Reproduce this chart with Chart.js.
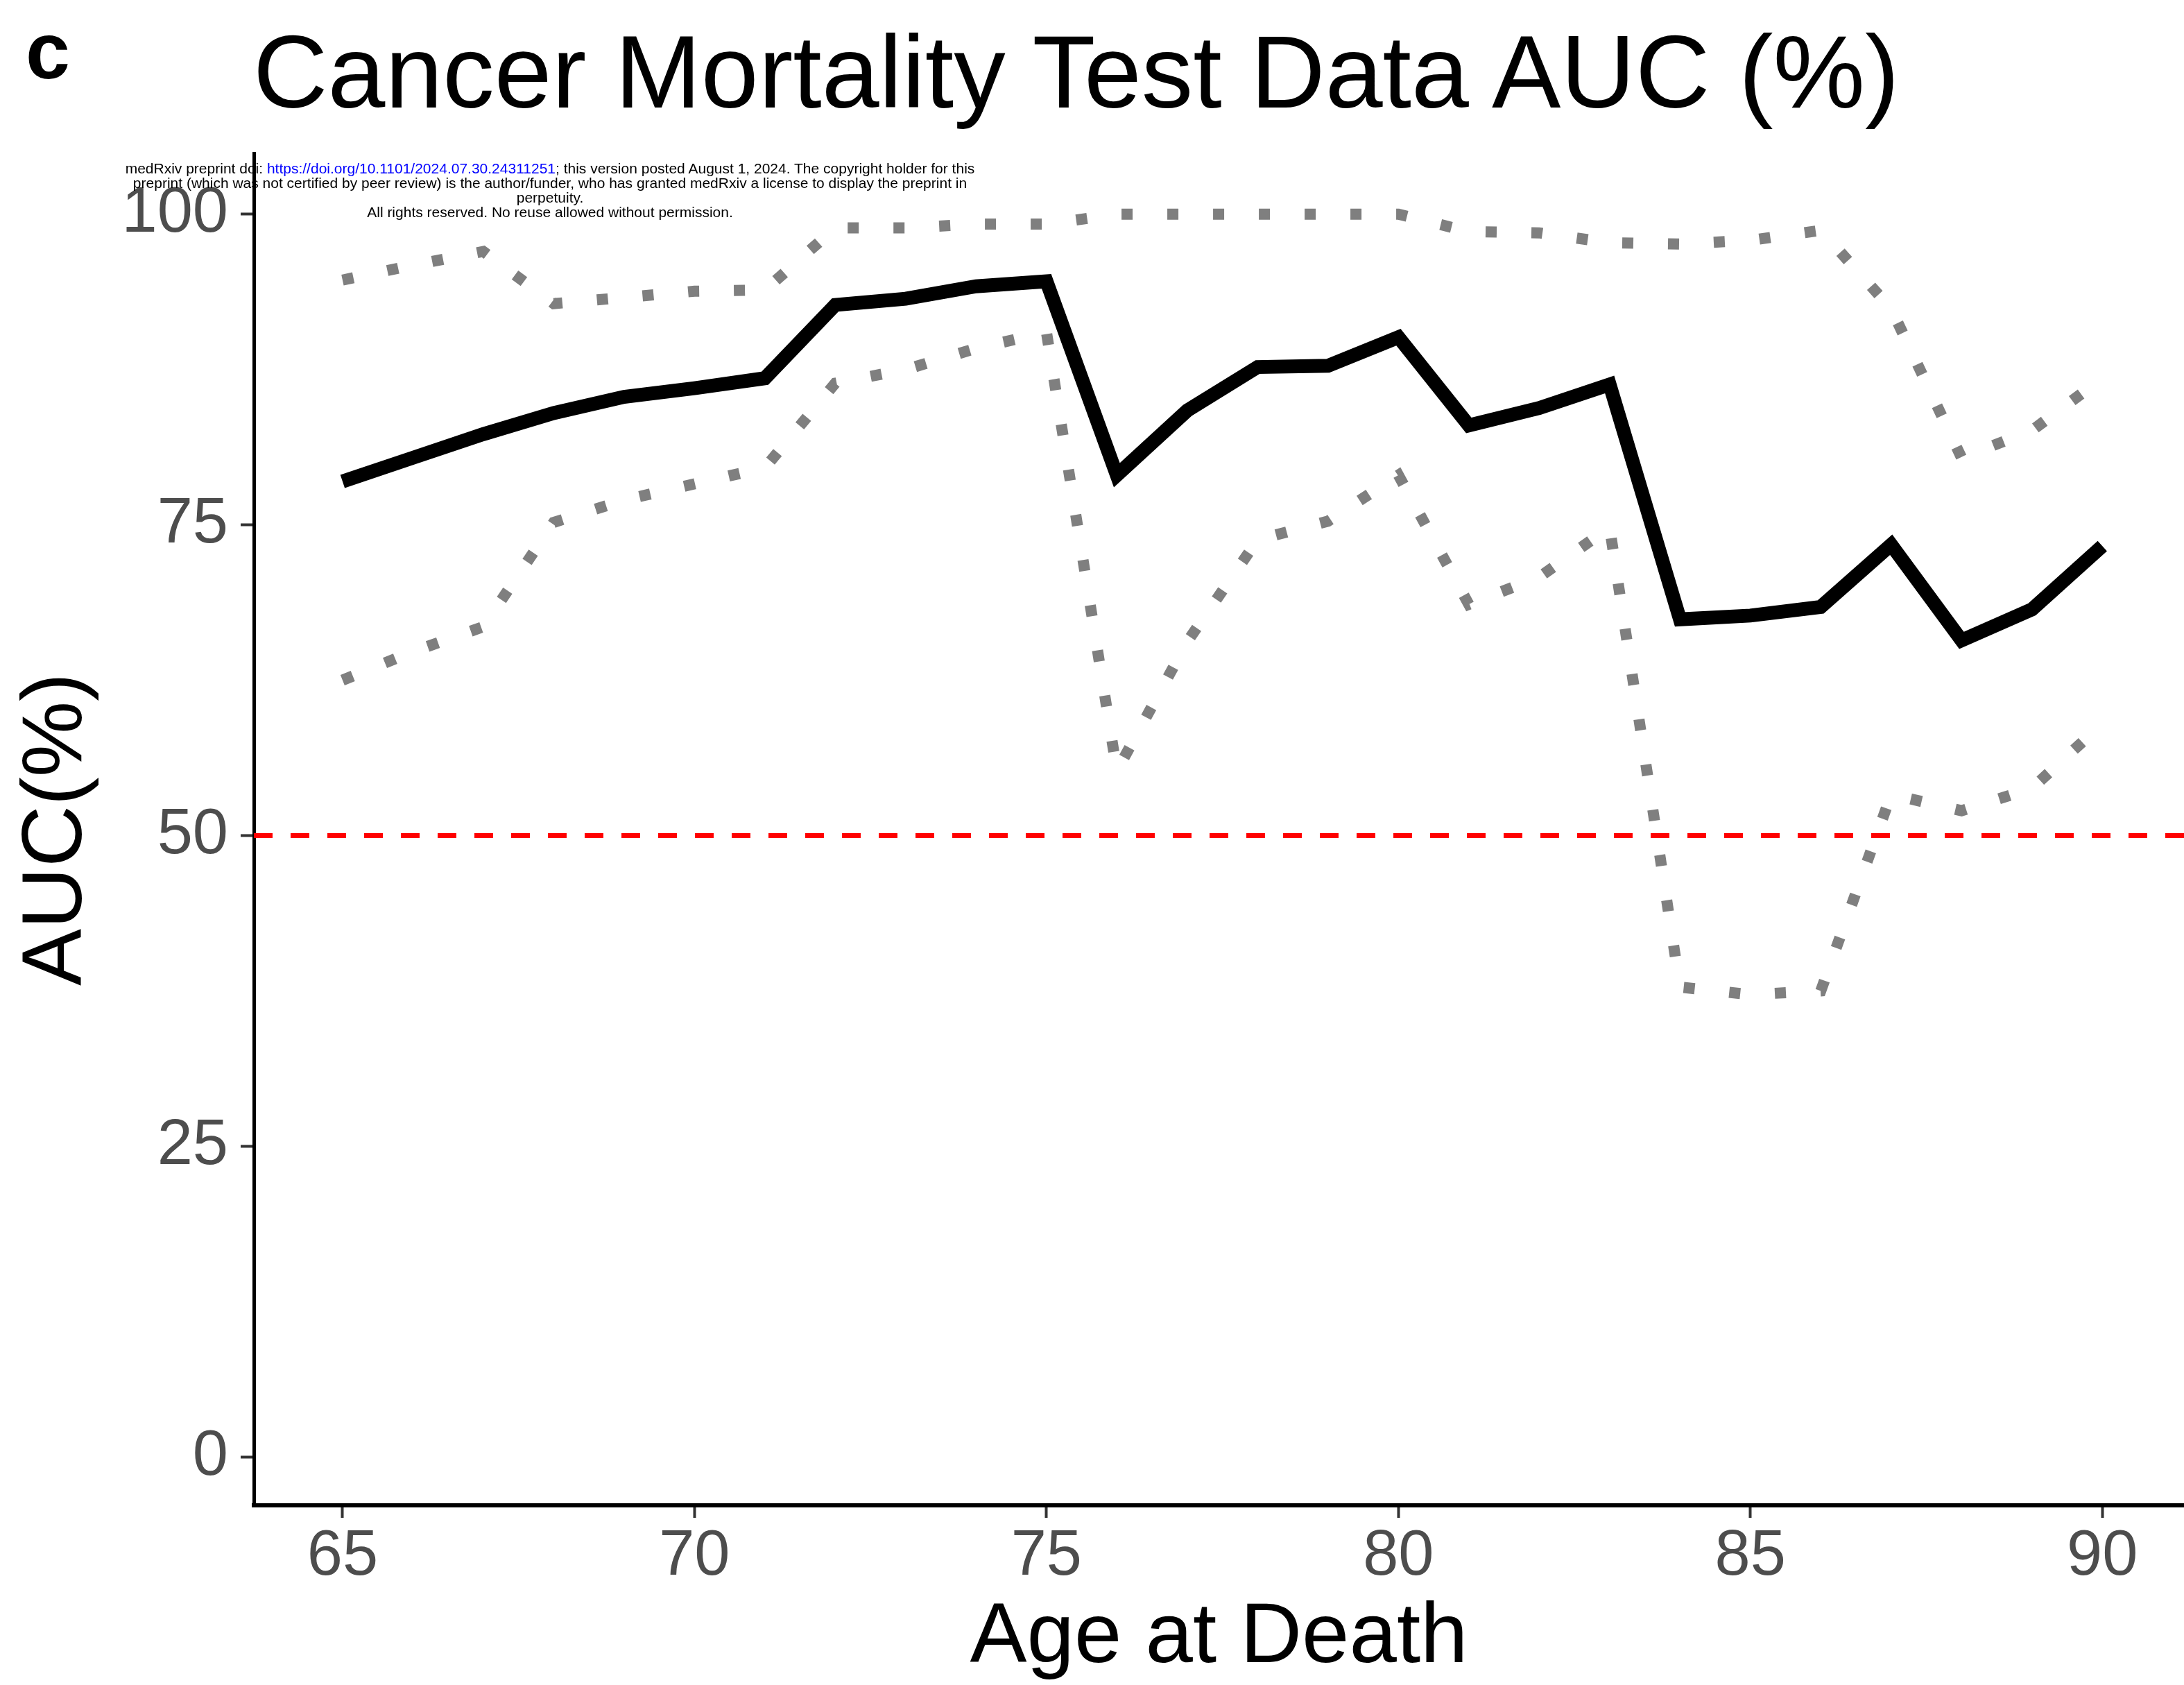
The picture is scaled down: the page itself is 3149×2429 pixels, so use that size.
<!DOCTYPE html>
<html>
<head>
<meta charset="utf-8">
<title>Cancer Mortality Test Data AUC (%)</title>
<script src="https://cdn.jsdelivr.net/npm/chart.js@4.4.1/dist/chart.umd.min.js"></script>
<style>
  body { margin: 0; background: #fff; font-family: "Liberation Sans", Arial, sans-serif; }
  #wrap { position: relative; width: 3149px; height: 2429px; }
  #auc-plot { position: absolute; left: 0; top: 0; }
  #panel-letter { position: absolute; left: 37px; top: 16px; font-size: 115px; line-height: 1; font-weight: bold; color: #000; }
  #plot-title { position: absolute; left: 365px; top: 29px; font-size: 149px; line-height: 1; color: #000; white-space: nowrap; }
  #preprint-note { position: absolute; left: 93px; top: 232px; width: 1400px; text-align: center; font-size: 21px; line-height: 21px; color: #000; white-space: nowrap; }
  #preprint-note a { color: #0000FF; text-decoration: none; }
</style>
</head>
<body>
<div id="wrap">
  <canvas id="auc-plot" width="3149" height="2429"></canvas>
  <div id="panel-letter">c</div>
  <div id="plot-title">Cancer Mortality Test Data AUC (%)</div>
  <div id="preprint-note">medRxiv preprint doi: <a href="https://doi.org/10.1101/2024.07.30.24311251">https://doi.org/10.1101/2024.07.30.24311251</a>; this version posted August 1, 2024. The copyright holder for this<br>preprint (which was not certified by peer review) is the author/funder, who has granted medRxiv a license to display the preprint in<br>perpetuity.<br>All rights reserved. No reuse allowed without permission.</div>
</div>
<script>
var ages = [65, 66, 67, 68, 69, 70, 71, 72, 73, 74, 75, 76, 77, 78, 79, 80, 81, 82, 83, 84, 85, 86, 87, 88, 89, 90];

// AUC and its confidence band
var aucMean  = [78.5, 80.4, 82.3, 84.0, 85.3, 86.0, 86.8, 92.7, 93.2, 94.2, 94.6, 79.0, 84.2, 87.7, 87.8, 90.1, 83.0, 84.4, 86.3, 67.4, 67.7, 68.4, 73.4, 65.7, 68.2, 73.3];
var aucUpper = [94.7, 95.9, 97.0, 92.8, 93.3, 93.8, 93.9, 98.9, 98.9, 99.2, 99.2, 100, 100, 100, 100, 100, 98.6, 98.5, 97.7, 97.6, 97.9, 98.7, 92.4, 80.4, 82.6, 86.8];
var aucLower = [62.5, 64.8, 66.8, 75.2, 77.0, 78.3, 79.6, 86.4, 87.5, 89.2, 90.5, 55.2, 65.6, 73.8, 75.3, 79.0, 68.6, 70.8, 74.8, 37.8, 37.2, 37.5, 53.3, 52.0, 53.8, 59.0];

var xTicks = [65, 70, 75, 80, 85, 90];
var yTicks = [0, 25, 50, 75, 100];
var chanceLevel = 50;

var xMin = 63.74, xMax = 91.16;
var yMin = -3.9, yMax = 104.9;

function toPoints(values) {
  return ages.map(function (a, i) { return { x: a, y: values[i] }; });
}

Chart.defaults.font.family = "'Liberation Sans', Arial, sans-serif";

new Chart("auc-plot", {
  type: "line",
  data: {
    datasets: [{
      label: "Chance",
      data: [{ x: xMin, y: chanceLevel }, { x: xMax, y: chanceLevel }],
      borderColor: "#FF0000",
      borderWidth: 7,
      borderDash: [27, 26],
      pointRadius: 0
    }, {
      label: "AUC",
      data: toPoints(aucMean),
      borderColor: "#000000",
      borderWidth: 20,
      borderJoinStyle: "miter",
      pointRadius: 0
    }, {
      label: "Upper",
      data: toPoints(aucUpper),
      borderColor: "#7F7F7F",
      borderWidth: 16,
      borderDash: [16, 50],
      pointRadius: 0
    }, {
      label: "Lower",
      data: toPoints(aucLower),
      borderColor: "#7F7F7F",
      borderWidth: 16,
      borderDash: [16, 50],
      pointRadius: 0
    }]
  },
  options: {
    responsive: false,
    animation: false,
    devicePixelRatio: 1,
    layout: { padding: { top: 221, right: 0, bottom: 0, left: 0 } },
    plugins: {
      legend: { display: false },
      tooltip: { enabled: false },
      title: { display: false }
    },
    scales: {
      x: {
        type: "linear",
        min: xMin,
        max: xMax,
        afterBuildTicks: function (s) { s.ticks = xTicks.map(function (v) { return { value: v }; }); },
        afterFit: function (s) { s.height = 259; },
        border: { display: true, color: "#000", width: 6 },
        grid: { drawOnChartArea: false, tickLength: 18, tickWidth: 4, tickColor: "#333" },
        ticks: { font: { size: 92 }, color: "#4D4D4D", padding: 1, maxRotation: 0, autoSkip: false },
        title: {
          display: true,
          text: "Age at Death",
          color: "#000",
          font: { size: 123, lineHeight: 1 },
          padding: { top: 0, bottom: 5 }
        }
      },
      y: {
        type: "linear",
        min: yMin,
        max: yMax,
        afterBuildTicks: function (s) { s.ticks = yTicks.map(function (v) { return { value: v }; }); },
        afterFit: function (s) { s.width = 366; },
        border: { display: true, color: "#000", width: 5 },
        grid: { drawOnChartArea: false, tickLength: 19, tickWidth: 4, tickColor: "#333" },
        ticks: { font: { size: 92 }, color: "#4D4D4D", padding: 18 },
        title: {
          display: true,
          text: "AUC(%)",
          color: "#000",
          font: { size: 123, lineHeight: 1 },
          padding: { top: 22, bottom: 0 }
        }
      }
    }
  }
});
</script>
</body>
</html>
